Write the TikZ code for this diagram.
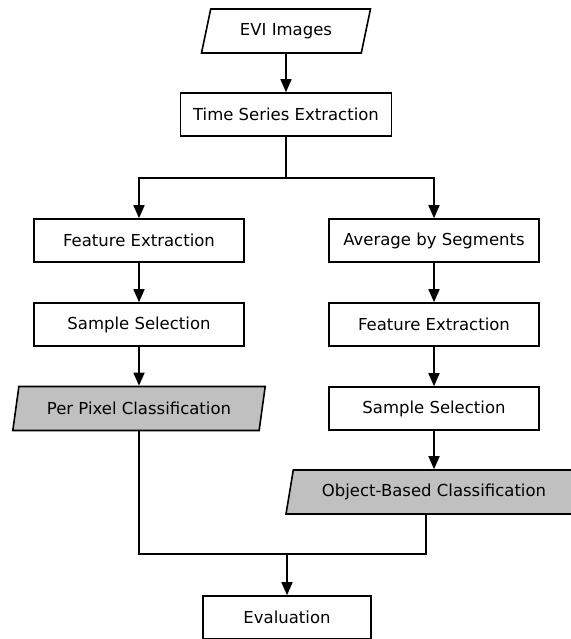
\documentclass[tikz,border=0pt]{standalone}
\usepackage{fontspec}
\setmainfont{DejaVu Sans}
\usetikzlibrary{shapes.geometric,arrows.meta}
\definecolor{fondgris}{RGB}{192,192,192}

\tikzset{
  boite/.style={draw, minimum width=210pt, minimum height=43pt, font=\fontsize{16.5}{19}\selectfont},
  para/.style={draw, trapezium, trapezium left angle=70, trapezium right angle=110,
    trapezium stretches=true, minimum height=44pt, inner sep=0pt, font=\fontsize{16.5}{19}\selectfont},
  fleche/.style={-{Triangle[width=11pt,length=13pt]}}
}

\begin{document}
\begin{tikzpicture}[x=1pt,y=-1pt,line width=1.6pt]
    \useasboundingbox (0,0) rectangle (570,639);

    % Entrée et extraction
    \node[para, minimum width=169pt] (evi) at (286,31) {EVI Images};
    \node[boite, minimum width=211pt] (tse) at (286,114.5) {Time Series Extraction};

    % Branche par pixel
    \node[boite] (featL) at (139,240.5) {Feature Extraction};
    \node[boite] (sampL) at (139,324.5) {Sample Selection};
    \node[para, fill=fondgris, minimum width=253pt] (ppc) at (139,408.5) {Per Pixel Classification};

    % Branche par objet
    \node[boite] (avg) at (434,240.5) {Average by Segments};
    \node[boite] (featR) at (434,324.5) {Feature Extraction};
    \node[boite] (sampR) at (434,408.5) {Sample Selection};
    \node[para, fill=fondgris, minimum width=297pt] (obc) at (434,492) {Object-Based Classification};

    % Évaluation
    \node[boite, minimum width=168pt] (eval) at (287,617.5) {Evaluation};

    % Liaisons
    \coordinate (split) at (286,178);
    \coordinate (merge) at (287,554);
    \draw[fleche] (evi) -- (tse);
    \draw (tse.south) -- (split);
    \draw[fleche] (split) -| (featL.north);
    \draw[fleche] (split) -| (avg.north);
    \draw[fleche] (featL) -- (sampL);
    \draw[fleche] (sampL) -- (ppc);
    \draw[fleche] (avg) -- (featR);
    \draw[fleche] (featR) -- (sampR);
    \draw[fleche] (sampR) -- (obc);
    \draw (ppc.south) |- (merge);
    \draw ([xshift=-8pt]obc.south) |- (merge);
    \draw[fleche] (merge) -- (eval.north);
\end{tikzpicture}
\end{document}
